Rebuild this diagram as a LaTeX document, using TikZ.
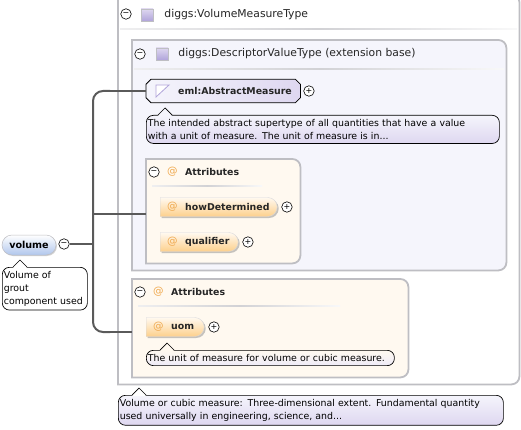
\documentclass[tikz,border=0pt]{standalone}
\usepackage{fontspec}
\setmainfont{DejaVu Sans}
\usetikzlibrary{positioning,shapes.misc,shadows,calc}
\definecolor{xsdFrame}{RGB}{190, 190, 195}
\definecolor{xsdLine}{RGB}{90, 90, 90}
\definecolor{xsdBlue}{RGB}{176, 198, 236}
\definecolor{xsdLilac}{RGB}{222, 215, 240}
\definecolor{xsdIcon}{RGB}{176, 164, 218}
\definecolor{xsdCream}{RGB}{255, 249, 240}
\definecolor{xsdPanel}{RGB}{245, 245, 252}
\definecolor{xsdOrange}{RGB}{253, 208, 140}
\definecolor{xsdAt}{RGB}{240, 170, 80}
\newcommand{\docnotch}[3]{%
  \fill[#3] ($(#1.north west)+(#2,1)$) -- ++(7,-8) -- ++(7,8) -- cycle;
  \draw[black,line width=0.7pt] ($(#1.north west)+(#2,0)$) -- ++(7,-7) -- ++(7,7);}
\newcommand{\panel}[2]{%
  \draw[draw=xsdFrame,line width=1.8pt,fill=#2] (#1.south west) [sharp corners] -- (#1.north west) [rounded corners=8pt] -- (#1.north east) -- (#1.south east) [sharp corners] -- cycle;}
\begin{document}
\begin{tikzpicture}[
  x=1pt,y=-1pt,
  font=\fontsize{10.8}{12.6}\selectfont,
  frame/.style={anchor=north west,inner sep=0pt},
  title/.style={anchor=west,inner sep=0pt,text=black!85},
  boldtitle/.style={title,font=\fontsize{9.4}{12}\selectfont\bfseries},
  toggle/.style={draw=black,fill=white,circle,line width=0.6pt,minimum size=10.5pt,inner sep=0pt,font=\fontsize{8}{8}\selectfont},
  typeicon/.style={draw=xsdFrame,top color=xsdLilac,bottom color=xsdIcon,minimum size=12pt,inner sep=0pt},
  docnote/.style={draw=black,line width=0.7pt,rounded corners=7pt,align=left,anchor=north west,inner xsep=1.5pt,inner ysep=4pt,top color=xsdPanel,bottom color=xsdLilac,font=\fontsize{9.4}{12.8}\selectfont},
  attnode/.style={rounded rectangle,rounded rectangle west arc=none,top color=xsdCream,bottom color=xsdOrange,draw=xsdFrame!60,line width=0.4pt,minimum height=19pt,anchor=west,inner sep=0pt,drop shadow={shadow xshift=1.5pt,shadow yshift=-1.5pt,fill=black!45}},
  attglyph/.style={text=xsdAt,anchor=west,inner sep=0pt,font=\fontsize{10.5}{12}\selectfont},
  wire/.style={draw=xsdLine,line width=2pt,rounded corners=10pt},
  branch/.style={draw=xsdLine,line width=1.2pt},
  rule/.style={left color=xsdFrame!25,right color=xsdFrame!10,middle color=xsdFrame!70,draw=none}
]
  \useasboundingbox (0,0) rectangle (521,430);
  \fill[white] (0,0) rectangle (521,430);
  % outer type
  \node[frame,minimum width=401pt,minimum height=390pt] (volumetype) at (118,-6) {};
  \panel{volumetype}{white}
  \fill[rule] (120,28.5) rectangle (517,30);
  \node[toggle] (volumetypeminus) at (126,14) {−};
  \node[typeicon] (volumetypeicon) at (147,15) {};
  \node[title,right=11pt of volumetypeicon] (volumetypetitle) {diggs:VolumeMeasureType};
  % extension base
  \node[frame,minimum width=374pt,minimum height=230pt] (extbase) at (132,40) {};
  \panel{extbase}{xsdPanel}
  \fill[rule] (134,68.5) rectangle (504,70);
  \node[toggle] (extbaseminus) at (140,54) {−};
  \node[typeicon] (extbaseicon) at (162,54) {};
  \node[title,right=10pt of extbaseicon] (extbasetitle) {diggs:DescriptorValueType (extension base)};
  % abstract measure
  \node[frame,anchor=west,minimum width=154pt,minimum height=23pt] (measure) at (146,91) {};
  \draw[black,line width=0.8pt,left color=xsdPanel,right color=xsdLilac] ($(measure.north west)+(0,5)$) -- ($(measure.north west)+(5,0)$) -- ($(measure.north east)+(-5,0)$) -- ($(measure.north east)+(0,5)$) -- ($(measure.south east)+(0,-5)$) -- ($(measure.south east)+(-5,0)$) -- ($(measure.south west)+(5,0)$) -- ($(measure.south west)+(0,-5)$) -- cycle;
  \node[boldtitle] (measuretext) at (178,91) {eml:AbstractMeasure};
  \draw[xsdIcon,fill=white,line width=0.8pt] (156,97) -- (156,85) -- (169,85) -- cycle;
  \node[toggle,right=3pt of measure] (measureplus) {+};
  \node[docnote,text width=350pt] (measuredoc) at (146,115) {The intended abstract supertype of all quantities that have a value\\with a unit of measure. The unit of measure is in...};
  \docnotch{measuredoc}{12}{xsdPanel}
  % attributes of the base
  \node[frame,minimum width=154pt,minimum height=104pt] (baseatts) at (146,159) {};
  \panel{baseatts}{xsdCream}
  \fill[rule] (152,185.5) rectangle (262,186.5);
  \node[toggle] (baseattsminus) at (154,172) {−};
  \node[attglyph] (baseattsglyph) at (167,172) {@};
  \node[boldtitle] (baseattstitle) at (185,172) {Attributes};
  \node[attnode,minimum width=117pt] (determined) at (160,207) {};
  \node[attglyph] (determinedglyph) at (167,207) {@};
  \node[boldtitle] (determinedtext) at (185,207) {howDetermined};
  \node[toggle,right=4pt of determined] (determinedplus) {+};
  \node[attnode,minimum width=78pt] (qualifier) at (160,242) {};
  \node[attglyph] (qualifierglyph) at (167,242) {@};
  \node[boldtitle] (qualifiertext) at (185,242) {qualifier};
  \node[toggle,right=4pt of qualifier] (qualifierplus) {+};
  % attributes of the type
  \node[frame,minimum width=276pt,minimum height=98pt] (typeatts) at (132,279) {};
  \panel{typeatts}{xsdCream}
  \fill[rule] (138,305.5) rectangle (340,306.5);
  \node[toggle] (typeattsminus) at (140,292) {−};
  \node[attglyph] (typeattsglyph) at (153,292) {@};
  \node[boldtitle] (typeattstitle) at (171,292) {Attributes};
  \node[attnode,minimum width=58pt] (uom) at (146,327) {};
  \node[attglyph] (uomglyph) at (153,327) {@};
  \node[boldtitle] (uomtext) at (171,327) {uom};
  \node[toggle,right=4pt of uom] (uomplus) {+};
  \node[docnote,text width=245pt,top color=xsdCream,bottom color=xsdLilac!50] (uomdoc) at (146,350) {The unit of measure for volume or cubic measure.};
  \docnotch{uomdoc}{14}{xsdCream}
  % element
  \node[rounded rectangle,draw=xsdFrame,top color=white,bottom color=xsdBlue,line width=0.5pt,minimum width=54pt,minimum height=20pt,inner sep=0pt,font=\fontsize{9.6}{12}\selectfont\bfseries,drop shadow={shadow xshift=1pt,shadow yshift=-1pt,fill=black!35}] (volume) at (29,245) {volume};
  \node[toggle] (volumeminus) at (64,244) {−};
  \node[docnote,top color=white,bottom color=white,text width=82pt] (volumedoc) at (2,267) {Volume of\\grout\\component used};
  \docnotch{volumedoc}{11}{white}
  \node[docnote,text width=382pt] (typedoc) at (118,395) {Volume or cubic measure: Three-dimensional extent. Fundamental quantity\\used universally in engineering, science, and...};
  \docnotch{typedoc}{14}{white}
  % connectors
  \coordinate (trunktop) at (110,91);
  \coordinate (trunkmid) at (93,244);
  \coordinate (trunklow) at (110,332);
  \coordinate (baseattsin) at (baseatts.west |- 0,214);
  \coordinate (typeattsin) at (typeatts.west |- 0,332);
  \draw[branch] (trunktop) -- (measure.west);
  \draw[branch] (trunkmid |- baseattsin) -- (baseattsin);
  \draw[branch] (trunklow) -- (typeattsin);
  \draw[wire] (trunktop) -- (93,91) -- (93,332) -- (trunklow);
  \draw[branch,line width=2pt] (volumeminus) -- (trunkmid);
\end{tikzpicture}
\end{document}
